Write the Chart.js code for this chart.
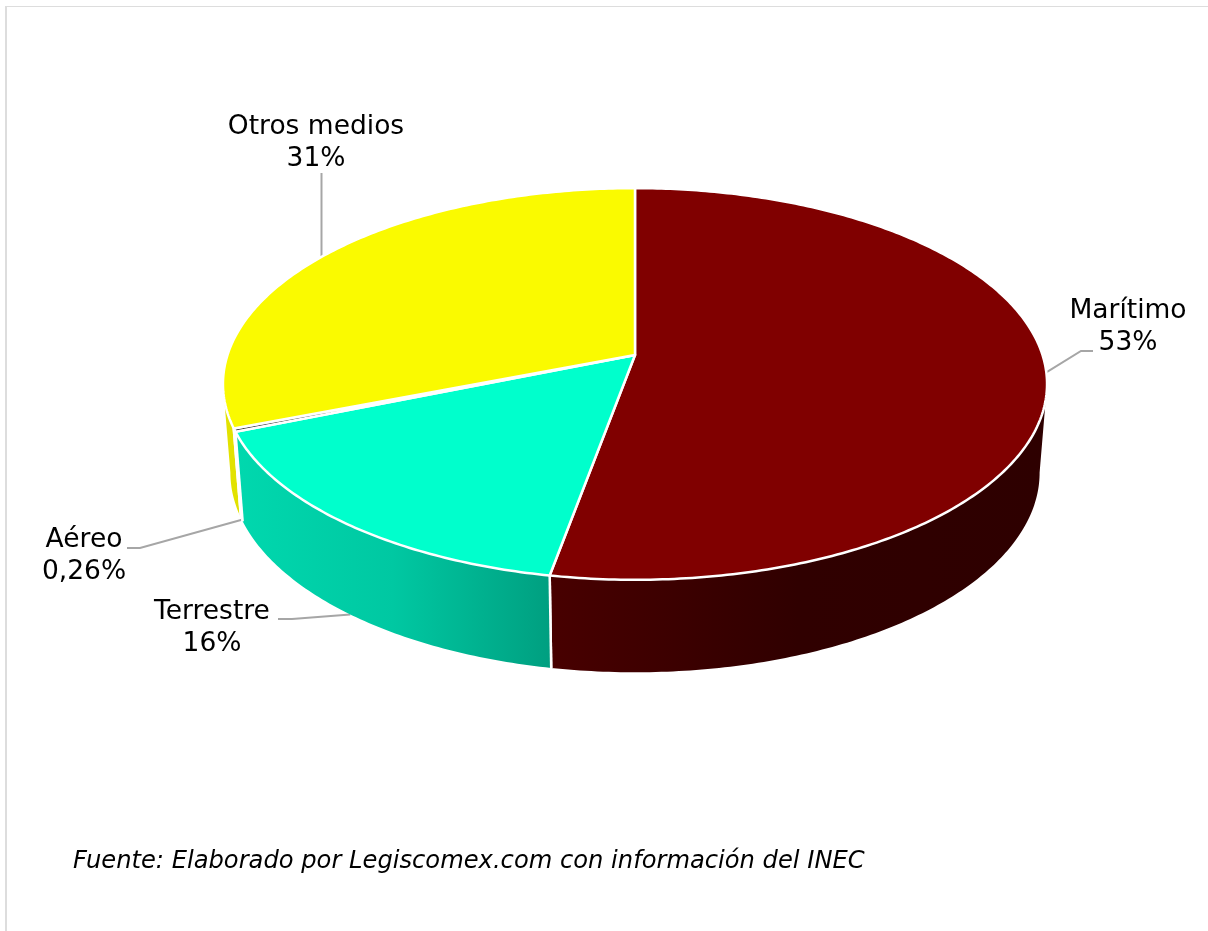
<!DOCTYPE html>
<html lang="es">
<head>
<meta charset="utf-8">
<title>Medios de transporte</title>
<script src="https://cdn.jsdelivr.net/npm/chart.js@4/dist/chart.umd.min.js"></script>
<style>
  html, body { margin: 0; background: #fff; overflow: hidden; }
  #wrap { position: relative; width: 1208px; height: 931px; }
  #frame { position: absolute; left: 5px; top: 6px; right: 0; bottom: 0; border-left: 2px solid #ddd; border-top: 1px solid #ddd; }
  canvas { position: absolute; left: 0; top: 0; }
</style>
</head>
<body>
<div id="wrap">
  <div id="frame"></div>
  <canvas id="pie" width="1208" height="931"></canvas>
</div>
<script>
const categories = ["Marítimo", "Terrestre", "Aéreo", "Otros medios"];
const values = [53, 16, 0.26, 31];
const valueLabels = ["53%", "16%", "0,26%", "31%"];
const source = "Fuente: Elaborado por Legiscomex.com con información del INEC";

const topColors = ["#800000", "#00ffcc", "#333333", "#fafa00"];
const sideColors = [
  ["#480000", "#300000", "#2e0000"],
  ["#00d8ae", "#00c8a2", "#009f80"],
  ["#222222", "#222222", "#222222"],
  ["#e2e200", "#e2e200", "#e2e200"]
];

// label centre x, first baseline y, then the elbow of the leader line
const labelPos = [
  { x: 1128, y: 318, elbow: [[1093, 351], [1081, 351]], onBase: false },
  { x: 212, y: 619, elbow: [[278, 619], [292, 619]], onBase: true },
  { x: 84, y: 547, elbow: [[127, 548], [140, 548]], onBase: true },
  { x: 316, y: 134, elbow: [[321.5, 173]], onBase: false, vertical: true }
];

// perspective of the tilted disc
const persp = 0.148;
const squash = 0.47;
const baseScaleX = 0.982;
const baseScaleY = 1.02;
const baseDrop = 88;
const edgeAngle = Math.asin(persp);

function project(arc, angle, onBase) {
  const u = Math.cos(angle), v = Math.sin(angle);
  const w = 1 - persp * v;
  let x = arc.outerRadius * u / w;
  let y = arc.outerRadius * squash * v / w;
  if (onBase) {
    x = x * baseScaleX;
    y = y * baseScaleY + baseDrop;
  }
  return [arc.x + x, arc.y + y];
}

function rimPoints(arc, from, to, onBase) {
  const pts = [];
  const steps = Math.max(2, Math.ceil((to - from) * 80));
  for (let i = 0; i <= steps; i++) {
    pts.push(project(arc, from + (to - from) * i / steps, onBase));
  }
  return pts;
}

function drawWall(ctx, arc, colors) {
  // only the part of the wall that faces the viewer
  const from = Math.max(arc.startAngle, edgeAngle);
  const to = Math.min(arc.endAngle, Math.PI - edgeAngle);
  if (to <= from) return;
  const top = rimPoints(arc, from, to, false);
  const base = rimPoints(arc, from, to, true).reverse();
  const outline = top.concat(base);
  const xs = outline.map((p) => p[0]);
  const grad = ctx.createLinearGradient(Math.min(...xs), 0, Math.max(...xs), 0);
  colors.forEach((c, i) => grad.addColorStop(i / (colors.length - 1), c));
  ctx.beginPath();
  outline.forEach((p, i) => (i ? ctx.lineTo(p[0], p[1]) : ctx.moveTo(p[0], p[1])));
  ctx.closePath();
  ctx.fillStyle = grad;
  ctx.fill();
  // white only on the upright edges between slices
  [[from, arc.startAngle], [to, arc.endAngle]].forEach(([a, edge]) => {
    if (a !== edge) return;
    const p = project(arc, a, false), q = project(arc, a, true);
    ctx.beginPath();
    ctx.moveTo(p[0], p[1]);
    ctx.lineTo(q[0], q[1]);
    ctx.stroke();
  });
}

function drawFace(ctx, arc, color) {
  ctx.beginPath();
  ctx.moveTo(arc.x, arc.y);
  rimPoints(arc, arc.startAngle, arc.endAngle, false).forEach((p) => ctx.lineTo(p[0], p[1]));
  ctx.closePath();
  ctx.fillStyle = color;
  ctx.fill();
  ctx.stroke();
}

const disc3d = {
  id: "disc3d",
  beforeDatasetDraw(chart, args) {
    const ctx = chart.ctx;
    const arcs = args.meta.data;

    // leader lines go under the disc
    ctx.save();
    ctx.strokeStyle = "#a6a6a6";
    ctx.lineWidth = 2;
    arcs.forEach((arc, i) => {
      const pos = labelPos[i];
      const anchor = project(arc, (arc.startAngle + arc.endAngle) / 2, pos.onBase);
      if (pos.vertical) {
        anchor[0] = pos.elbow[0][0];
        anchor[1] += 3;
      }
      ctx.beginPath();
      ctx.moveTo(anchor[0], anchor[1]);
      pos.elbow.slice().reverse().forEach((p) => ctx.lineTo(p[0], p[1]));
      ctx.stroke();
    });
    ctx.restore();

    ctx.save();
    ctx.lineJoin = "round";
    ctx.strokeStyle = "#fff";
    ctx.lineWidth = 2.5;
    [3, 2, 0, 1].forEach((i) => drawWall(ctx, arcs[i], sideColors[i]));
    arcs.forEach((arc, i) => drawFace(ctx, arc, topColors[i]));
    ctx.restore();

    ctx.save();
    ctx.fillStyle = "#000";
    ctx.font = "26.5px 'DejaVu Sans'";
    ctx.textAlign = "center";
    ctx.textBaseline = "alphabetic";
    arcs.forEach((arc, i) => {
      ctx.fillText(categories[i], labelPos[i].x, labelPos[i].y);
      ctx.fillText(valueLabels[i], labelPos[i].x, labelPos[i].y + 32);
    });
    ctx.restore();
    return false;
  }
};

new Chart(document.getElementById("pie"), {
  type: "pie",
  data: {
    labels: categories,
    datasets: [{ data: values, backgroundColor: topColors, borderColor: "#fff", borderWidth: 2 }]
  },
  options: {
    responsive: false,
    animation: false,
    radius: 407.5,
    layout: { padding: { left: 73, right: 11, top: 0, bottom: 0 } },
    plugins: {
      legend: { display: false },
      tooltip: { enabled: false },
      title: {
        display: true,
        text: source,
        position: "bottom",
        align: "start",
        color: "#000",
        font: { family: "'DejaVu Sans'", size: 24.2, style: "italic", weight: "normal", lineHeight: 1.2 },
        padding: { top: 137, bottom: 55 }
      }
    }
  },
  plugins: [disc3d]
});
</script>
</body>
</html>
